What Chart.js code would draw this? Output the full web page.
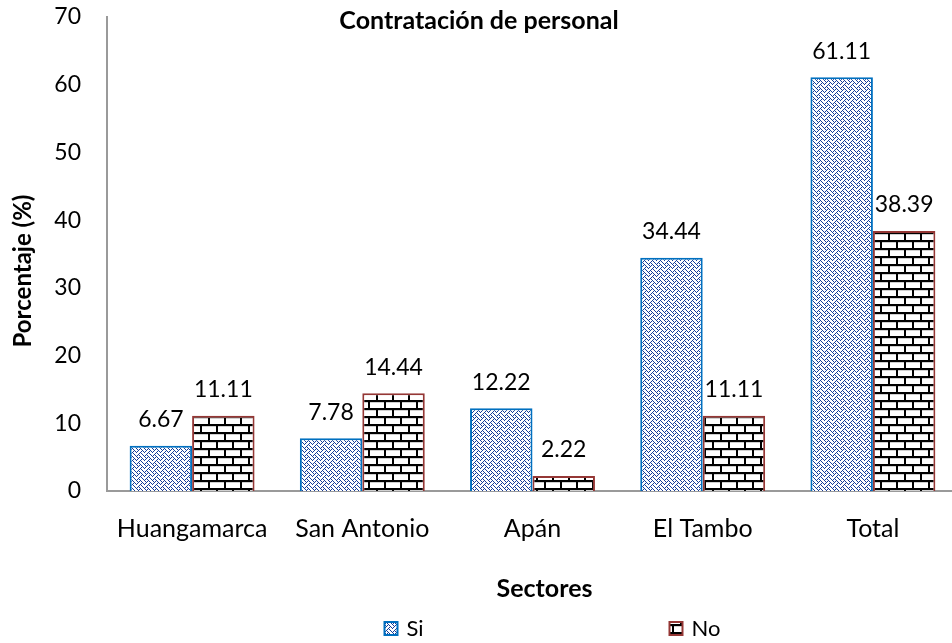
<!DOCTYPE html>
<html>
<head>
<meta charset="utf-8">
<script src="https://cdn.jsdelivr.net/npm/chart.js@4"></script>
<style>
  html, body { margin: 0; padding: 0; background: #fff; overflow: hidden; }
  #wrap { width: 958px; height: 643px; }
</style>
</head>
<body>
<div id="wrap"><canvas id="chart"></canvas></div>
<script>
const sectores = ["Huangamarca", "San Antonio", "Apán", "El Tambo", "Total"];
const si = [6.67, 7.78, 12.22, 34.44, 61.11];
const no = [11.11, 14.44, 2.22, 11.11, 38.39];
const yTicks = [0, 10, 20, 30, 40, 50, 60, 70];

const FONT = "Lato, 'Open Sans', sans-serif";

// weave pattern (blue dots) for "Si"
function weavePattern() {
  const bits = [0x88, 0x54, 0x22, 0x45, 0x88, 0x14, 0x22, 0x51];
  const c = document.createElement("canvas");
  c.width = 8; c.height = 8;
  const g = c.getContext("2d");
  g.fillStyle = "#fff";
  g.fillRect(0, 0, 8, 8);
  g.fillStyle = "#163d99";
  bits.forEach((row, y) => {
    for (let x = 0; x < 8; x++) {
      if (row & (0x80 >> x)) g.fillRect(x, y, 1, 1);
    }
  });
  return g.createPattern(c, "repeat");
}

// brick pattern (black) for "No"
function brickPattern() {
  const c = document.createElement("canvas");
  c.width = 16; c.height = 16;
  const g = c.getContext("2d");
  g.fillStyle = "#fff";
  g.fillRect(0, 0, 16, 16);
  g.fillStyle = "#d0d0d0";
  g.fillRect(0, 2, 16, 1);
  g.fillRect(0, 10, 16, 1);
  g.fillStyle = "#000";
  g.fillRect(0, 0, 16, 2);
  g.fillRect(0, 8, 16, 2);
  g.fillRect(0, 2, 2, 6);
  g.fillRect(8, 10, 2, 6);
  return g.createPattern(c, "repeat");
}

const siFill = weavePattern();
const noFill = brickPattern();

const textPlugin = {
  id: "textPlugin",
  afterDatasetsDraw(chart) {
    const { ctx, chartArea } = chart;
    ctx.save();
    // value labels
    ctx.fillStyle = "#000";
    ctx.font = "23px " + FONT;
    ctx.textAlign = "center";
    ctx.textBaseline = "middle";
    chart.data.datasets.forEach((ds, i) => {
      chart.getDatasetMeta(i).data.forEach((bar, j) => {
        ctx.fillText(ds.data[j].toFixed(2), bar.x, bar.y - 26);
      });
    });
    // title
    ctx.font = "bold 25px " + FONT;
    ctx.fillText("Contratación de personal", chart.width / 2, chartArea.top + 4);
    // x axis title
    const cx = (chartArea.left + chartArea.right) / 2;
    ctx.fillText("Sectores", cx + 12, chartArea.bottom + 98);
    // y axis title
    ctx.save();
    ctx.translate(23, (chartArea.top + chartArea.bottom) / 2 + 17);
    ctx.rotate(-Math.PI / 2);
    ctx.font = "bold 24px " + FONT;
    ctx.fillText("Porcentaje (%)", 0, 0);
    ctx.restore();
    // legend
    const ly = chartArea.bottom + 137;
    const items = [
      { x: cx - 148, label: "Si", ds: chart.data.datasets[0] },
      { x: cx + 137, label: "No", ds: chart.data.datasets[1] }
    ];
    ctx.textAlign = "left";
    ctx.font = "22px " + FONT;
    items.forEach(it => {
      ctx.fillStyle = it.ds.backgroundColor;
      ctx.fillRect(it.x, ly - 6, 13, 13);
      ctx.strokeStyle = it.ds.borderColor;
      ctx.lineWidth = 2;
      ctx.strokeRect(it.x, ly - 6, 13, 13);
      ctx.fillStyle = "#000";
      ctx.fillText(it.label, it.x + 22, ly + 1);
    });
    ctx.restore();
  }
};

new Chart(document.getElementById("chart"), {
  type: "bar",
  data: {
    labels: sectores,
    datasets: [
      {
        label: "Si",
        data: si,
        backgroundColor: siFill,
        borderColor: "#0070c0",
        borderWidth: 2
      },
      {
        label: "No",
        data: no,
        backgroundColor: noFill,
        borderColor: "#953735",
        borderWidth: 2
      }
    ]
  },
  options: {
    responsive: true,
    maintainAspectRatio: false,
    animation: false,
    layout: { padding: { top: 17, right: 0, left: 0, bottom: 0 } },
    datasets: {
      bar: { categoryPercentage: 0.734, barPercentage: 1 }
    },
    plugins: {
      legend: { display: false },
      title: { display: false },
      tooltip: { enabled: false }
    },
    scales: {
      x: {
        grid: { display: false, drawTicks: false },
        border: { color: "#9a9a9a", width: 2 },
        ticks: {
          color: "#000",
          font: { family: FONT, size: 25 },
          padding: 23
        },
        afterFit(scale) { scale.height = 152; }
      },
      y: {
        min: 0,
        max: 70,
        grid: { display: false, drawTicks: false },
        border: { color: "#9a9a9a", width: 2 },
        afterBuildTicks(scale) {
          scale.ticks = yTicks.map(v => ({ value: v }));
        },
        ticks: {
          color: "#000",
          font: { family: FONT, size: 23 },
          padding: 26
        },
        afterFit(scale) {
          scale.width = 107;
          scale.paddingTop = 0;
          scale.paddingBottom = 0;
        }
      }
    }
  },
  plugins: [textPlugin]
});
</script>
</body>
</html>
